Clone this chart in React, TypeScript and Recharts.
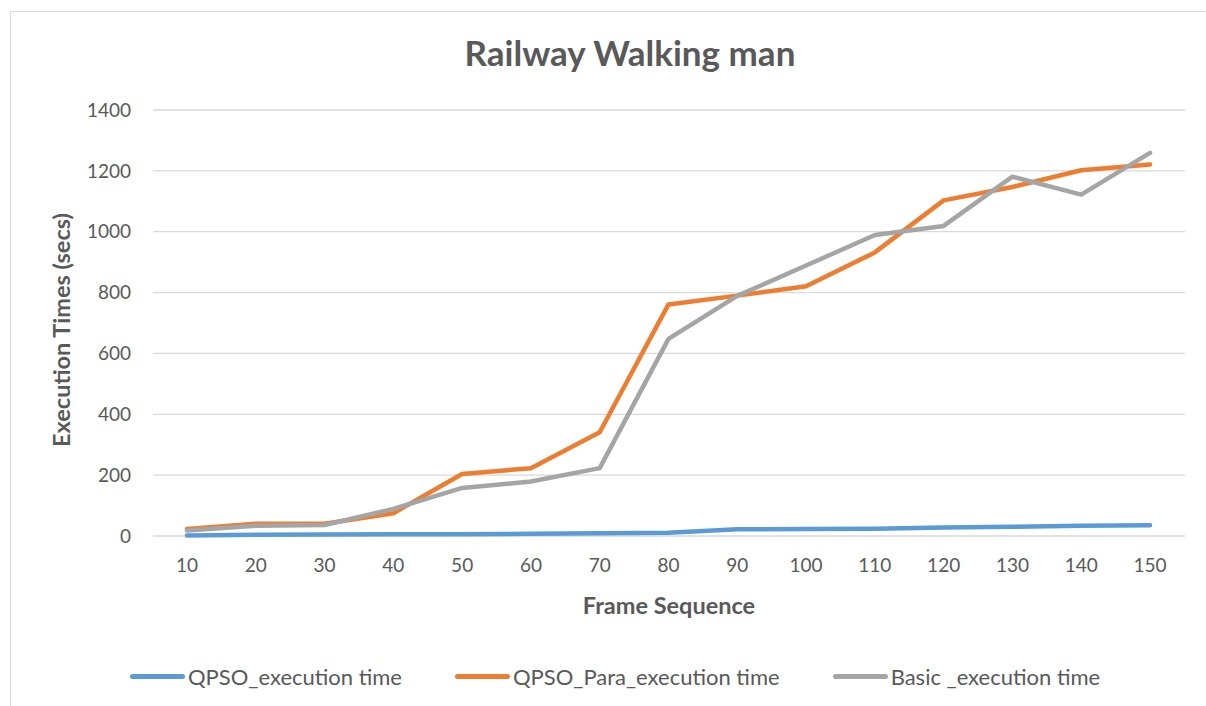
import React from "react";
import { LineChart, Line, XAxis, YAxis, CartesianGrid } from "recharts";

const frames = [10, 20, 30, 40, 50, 60, 70, 80, 90, 100, 110, 120, 130, 140, 150];
const qpsoTimes = [2, 4, 5, 6, 6, 7, 9, 11, 22, 23, 24, 28, 30, 34, 35];
const qpsoParaTimes = [23, 40, 40, 75, 204, 223, 341, 761, 790, 821, 932, 1103, 1147, 1202, 1221];
const basicTimes = [18, 34, 36, 89, 158, 179, 223, 648, 789, 889, 989, 1019, 1181, 1122, 1259];
const yTicks = [0, 200, 400, 600, 800, 1000, 1200, 1400];

const series = [
  { key: "qpso", name: "QPSO_execution time", color: "#5B9BD5" },
  { key: "para", name: "QPSO_Para_execution time", color: "#ED7D31" },
  { key: "basic", name: "Basic _execution time", color: "#A5A5A5" },
];

const data = frames.map((f, i) => ({
  frame: f,
  qpso: qpsoTimes[i],
  para: qpsoParaTimes[i],
  basic: basicTimes[i],
}));

const FONT = "Lato, 'Open Sans', sans-serif";
const TEXT = "#595959";

export default function App() {
  return (
    <div
      style={{
        position: "absolute",
        left: 0,
        top: 0,
        width: 1206,
        height: 706,
        background: "#fff",
        overflow: "hidden",
        fontFamily: FONT,
      }}
    >
      {/* chart area border, runs off the right and bottom edges */}
      <div
        style={{
          position: "absolute",
          left: 10,
          top: 11,
          width: 1210,
          height: 710,
          border: "1px solid #D9D9D9",
        }}
      />
      <div style={{ position: "absolute", left: 0, top: 0 }}>
        <LineChart
          width={1206}
          height={706}
          data={data}
          margin={{ top: 110, right: 21, left: 60, bottom: 140 }}
        >
          <text
            x={630}
            y={66}
            textAnchor="middle"
            fill={TEXT}
            fontSize={35}
            fontWeight="bold"
            fontFamily={FONT}
          >
            Railway Walking man
          </text>
          <CartesianGrid vertical={false} stroke="#D9D9D9" strokeWidth={1.3} />
          <XAxis
            dataKey="frame"
            axisLine={false}
            tickLine={false}
            padding={{ left: 34, right: 35 }}
            tick={{ fill: TEXT, fontSize: 19, fontFamily: FONT }}
            tickMargin={17}
            height={30}
            interval={0}
            label={{
              content: () => (
                <text
                  x={669}
                  y={614}
                  textAnchor="middle"
                  fill={TEXT}
                  fontSize={23.5}
                  fontWeight="bold"
                  fontFamily={FONT}
                >
                  Frame Sequence
                </text>
              ),
            }}
          />
          <YAxis
            domain={[0, 1400]}
            ticks={yTicks}
            axisLine={false}
            tickLine={false}
            width={93}
            tickMargin={16}
            tick={{ fill: TEXT, fontSize: 19, fontFamily: FONT }}
            label={{
              content: () => (
                <text
                  x={70}
                  y={330}
                  transform="rotate(-90 70 330)"
                  textAnchor="middle"
                  fill={TEXT}
                  fontSize={23.5}
                  fontWeight="bold"
                  fontFamily={FONT}
                >
                  Execution Times (secs)
                </text>
              ),
            }}
          />
          {series.map((s) => (
            <Line
              key={s.key}
              type="linear"
              dataKey={s.key}
              name={s.name}
              stroke={s.color}
              strokeWidth={4.5}
              strokeLinecap="round"
              strokeLinejoin="round"
              dot={false}
              activeDot={false}
              isAnimationActive={false}
            />
          ))}
        </LineChart>
      </div>
      {/* legend */}
      <div
        style={{
          position: "absolute",
          left: 130,
          top: 663,
          display: "flex",
          alignItems: "center",
          gap: 53,
          fontSize: 22,
          color: TEXT,
          whiteSpace: "nowrap",
        }}
      >
        {series.map((s) => (
          <div key={s.key} style={{ display: "flex", alignItems: "center" }}>
            <div
              style={{
                width: 55,
                height: 5,
                borderRadius: 3,
                background: s.color,
                marginRight: 3,
              }}
            />
            <span>{s.name}</span>
          </div>
        ))}
      </div>
    </div>
  );
}
